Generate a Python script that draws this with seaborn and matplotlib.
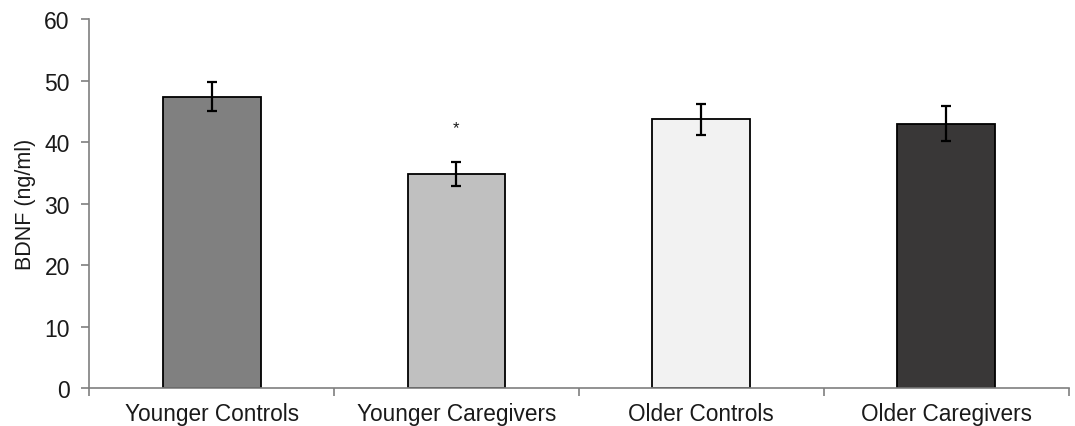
import pandas as pd
import matplotlib.pyplot as plt
import seaborn as sns

# values
groups = ['Younger Controls', 'Younger Caregivers', 'Older Controls', 'Older Caregivers']
bdnf = [47.4, 34.8, 43.7, 43.0]
sem = [2.4, 2.0, 2.5, 2.9]
bar_colors = ['#808080', '#c0c0c0', '#f2f2f2', '#3a3736']

df = pd.DataFrame({'group': groups, 'bdnf': bdnf, 'sem': sem})

sns.set_style("white")
plt.rcParams['font.family'] = ['Liberation Sans', 'DejaVu Sans']

fig = plt.figure(figsize=(10.75, 4.27), dpi=100)
ax = fig.add_axes([0.083, 0.089, 0.911, 0.864])

sns.barplot(x='group', y='bdnf', data=df, hue='group', palette=bar_colors,
            legend=False, width=0.4, edgecolor='black', linewidth=1.3, ax=ax)
ax.errorbar(range(len(groups)), df['bdnf'], yerr=df['sem'], fmt='none',
            ecolor='black', elinewidth=1.6, capsize=3.6, capthick=1.6)

# significance mark
ax.text(1, 42.3, '*', ha='center', va='center', fontsize=12, color='#1a1a1a')

ax.set_xlim(-0.5, 3.5)
ax.set_ylim(0, 60)
ax.set_yticks(range(0, 61, 10))
ax.set_xlabel('')
ax.set_ylabel('BDNF (ng/ml)', fontsize=15.5, labelpad=6, color='#1a1a1a')

for side in ['top', 'right']:
    ax.spines[side].set_visible(False)
for side in ['left', 'bottom']:
    ax.spines[side].set_color('#7f7f7f')
    ax.spines[side].set_linewidth(1.2)

ax.tick_params(axis='y', which='major', direction='out', length=6, width=1.2,
               color='#7f7f7f', labelsize=16.5, labelcolor='#1a1a1a', left=True, pad=8)
ax.tick_params(axis='x', which='major', length=0, labelsize=16.3,
               labelcolor='#1a1a1a', pad=10)
ax.set_xticks([-0.5, 0.5, 1.5, 2.5, 3.5], minor=True)
ax.tick_params(axis='x', which='minor', direction='out', length=6, width=1.2,
               color='#7f7f7f', bottom=True)

fig.savefig('out.png', dpi=100)
